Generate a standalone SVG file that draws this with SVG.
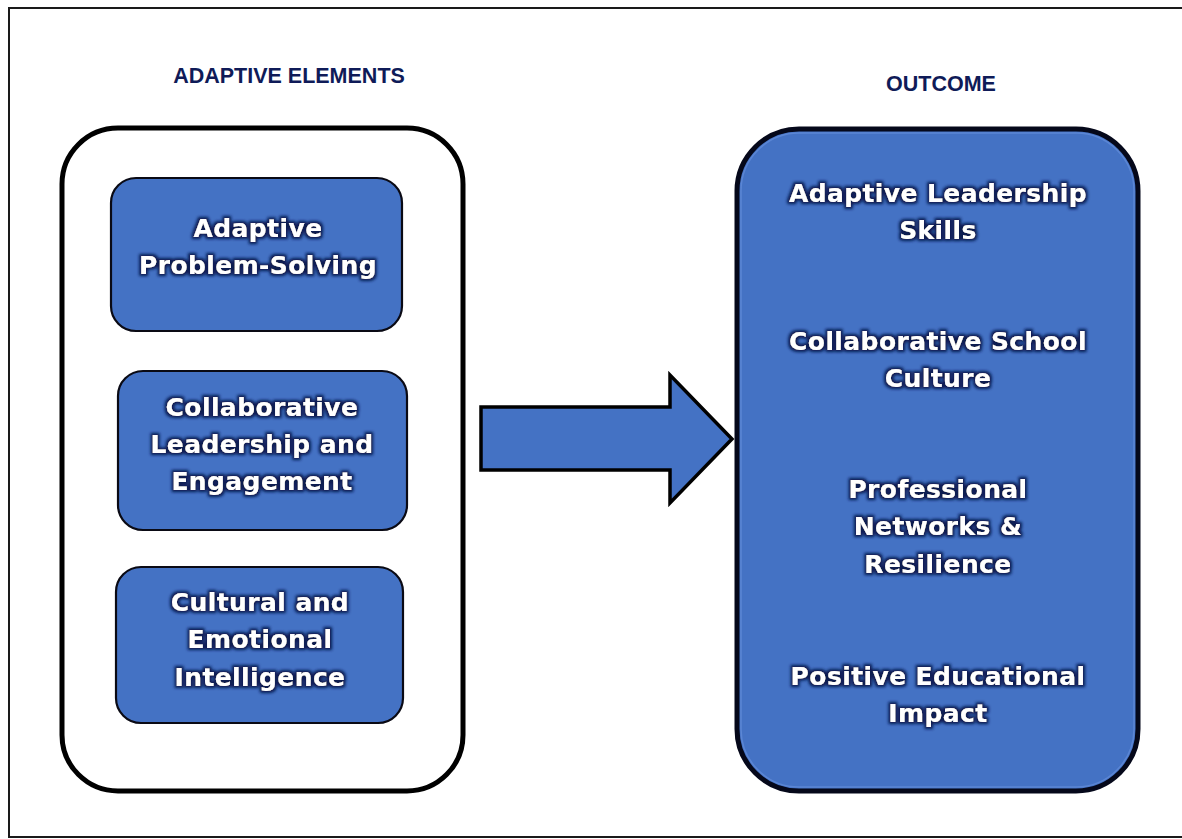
<svg xmlns="http://www.w3.org/2000/svg" width="1182" height="839" viewBox="0 0 1182 839">
  <defs>
    <!-- dark halo behind the white box labels -->
    <filter id="glow" x="-10%" y="-30%" width="120%" height="160%">
      <feMorphology in="SourceAlpha" operator="dilate" radius="1.8" result="thick"/>
      <feGaussianBlur in="thick" stdDeviation="1.5" result="soft"/>
      <feFlood flood-color="#0a1a50" flood-opacity="1"/>
      <feComposite in2="soft" operator="in" result="halo"/>
      <feMerge>
        <feMergeNode in="halo"/>
        <feMergeNode in="SourceGraphic"/>
      </feMerge>
    </filter>
    <style>
      .heading { font-family: "Liberation Sans", Arial, sans-serif; font-weight: bold; font-size: 21.5px; fill: #0f1b58; text-anchor: middle; }
      .label { font-family: "DejaVu Sans", "Liberation Sans", sans-serif; font-weight: bold; font-size: 25px; letter-spacing: 0.4px; fill: #ffffff; text-anchor: middle; filter: url(#glow); }
      .box { fill: #4472c4; stroke: #0a0a14; stroke-width: 2.2; }
    </style>
  </defs>

  <rect width="1182" height="839" fill="#ffffff"/>
  <!-- page frame -->
  <rect x="9" y="8" width="1190" height="829" fill="none" stroke="#1a1a1a" stroke-width="2"/>

  <text class="heading" x="289" y="83">ADAPTIVE ELEMENTS</text>
  <text class="heading" x="941" y="91">OUTCOME</text>

  <!-- left container -->
  <g id="adaptive-elements">
    <rect x="62" y="128" width="401" height="663" rx="56" ry="56" fill="#ffffff" stroke="#000000" stroke-width="5"/>
  </g>

  <g id="node-problem-solving">
    <rect class="box" x="111" y="178" width="291" height="153" rx="25" ry="25"/>
    <text class="label" x="258" y="237">Adaptive</text>
    <text class="label" x="258" y="274">Problem-Solving</text>
  </g>

  <g id="node-collaborative-leadership">
    <rect class="box" x="118" y="371" width="289" height="159" rx="25" ry="25"/>
    <text class="label" x="262" y="416">Collaborative</text>
    <text class="label" x="262" y="453">Leadership and</text>
    <text class="label" x="262" y="490">Engagement</text>
  </g>

  <g id="node-emotional-intelligence">
    <rect class="box" x="116" y="567" width="287" height="156" rx="25" ry="25"/>
    <text class="label" x="260" y="611">Cultural and</text>
    <text class="label" x="260" y="648">Emotional</text>
    <text class="label" x="260" y="686">Intelligence</text>
  </g>

  <!-- connector: block arrow -->
  <g id="connectors">
    <path d="M481,407 L670,407 L670,375 L732,439 L670,503 L670,470 L481,470 Z" fill="#4472c4" stroke="#000000" stroke-width="3.5" stroke-linejoin="miter"/>
  </g>

  <!-- right container -->
  <g id="outcome">
    <rect x="737" y="129" width="401" height="662" rx="62" ry="62" fill="#4472c4" stroke="#05081a" stroke-width="5"/>
    <rect x="741" y="133" width="393" height="654" rx="58" ry="58" fill="none" stroke="#5b86d4" stroke-width="1.5"/>
    <text class="label" x="938" y="202">Adaptive Leadership</text>
    <text class="label" x="938" y="239">Skills</text>
    <text class="label" x="938" y="350">Collaborative School</text>
    <text class="label" x="938" y="387">Culture</text>
    <text class="label" x="938" y="498">Professional</text>
    <text class="label" x="938" y="535">Networks &amp;</text>
    <text class="label" x="938" y="573">Resilience</text>
    <text class="label" x="938" y="685">Positive Educational</text>
    <text class="label" x="938" y="722">Impact</text>
  </g>
</svg>
